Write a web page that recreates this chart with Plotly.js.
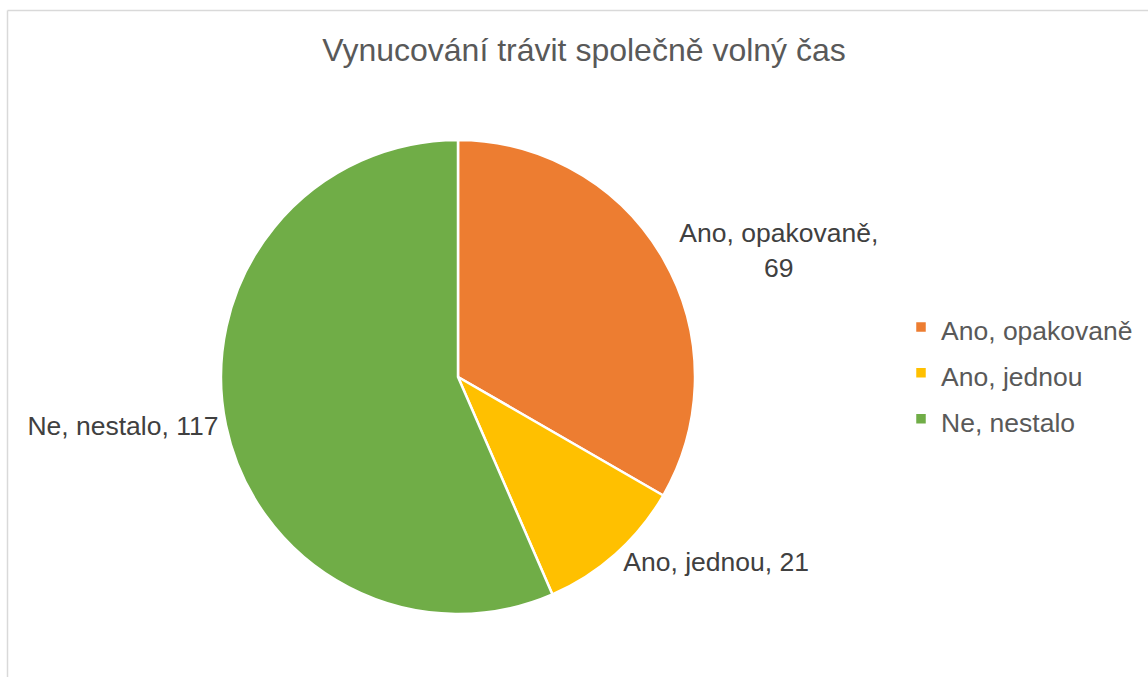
<!DOCTYPE html>
<html>
<head>
<meta charset="utf-8">
<script src="https://cdn.plot.ly/plotly-3.0.1.min.js"></script>
<style>
html,body{margin:0;padding:0;background:#fff;}
#chart{width:1148px;height:677px;}
</style>
</head>
<body>
<div id="chart"></div>
<script>
const chartTitle = "Vynucování trávit společně volný čas";
const categories = ["Ano, opakovaně", "Ano, jednou", "Ne, nestalo"];
const counts = [69, 21, 117];
const colors = ["#ED7D31", "#FFC000", "#70AD47"];

const W = 1148, H = 677;
// legend text drawn at 26.5px, while the legend font size sets the row spacing
const shownLabels = categories.map(c => '<span style="font-size:26.5px">' + c + '</span>');

const trace = {
  type: "pie",
  labels: shownLabels,
  values: counts,
  sort: false,
  direction: "clockwise",
  rotation: 0,
  marker: {colors: colors, line: {color: "#ffffff", width: 2.5}},
  textposition: "outside",
  texttemplate: ["%{label},<br>%{value}", "%{label}, %{value}", "%{label}, %{value}"],
  textfont: {family: "Liberation Sans, Arial, sans-serif", size: 26.5, color: "#404040"},
  automargin: false,
  hoverinfo: "label+value",
  domain: {x: [221/W, 695/W], y: [1 - 614/H, 1 - 140/H]}
};

const layout = {
  width: W, height: H,
  margin: {l: 0, r: 0, t: 0, b: 0},
  paper_bgcolor: "#ffffff",
  plot_bgcolor: "#ffffff",
  font: {family: "Liberation Sans, Arial, sans-serif", color: "#595959"},
  title: {text: chartTitle, x: 584/W, xanchor: "center", y: 1 - 50/H, yanchor: "middle",
          font: {size: 32, color: "#595959", family: "Liberation Sans, Arial, sans-serif"}},
  showlegend: true,
  legend: {x: 901/W, xanchor: "left", y: 1 - 373/H, yanchor: "middle",
           font: {size: 33, color: "#595959"}, bgcolor: "rgba(0,0,0,0)",
           itemwidth: 30},
  shapes: [
    {type: "line", xref: "paper", yref: "paper", x0: 7.5/W, x1: 1.01, y0: 1 - 10.5/H, y1: 1 - 10.5/H,
     line: {color: "#d9d9d9", width: 1.5}},
    {type: "line", xref: "paper", yref: "paper", x0: 7.5/W, x1: 7.5/W, y0: 1 - 10.5/H, y1: -0.01,
     line: {color: "#d9d9d9", width: 1.5}}
  ]
};

Plotly.newPlot("chart", [trace], layout, {displayModeBar: false, staticPlot: true});
</script>
</body>
</html>
